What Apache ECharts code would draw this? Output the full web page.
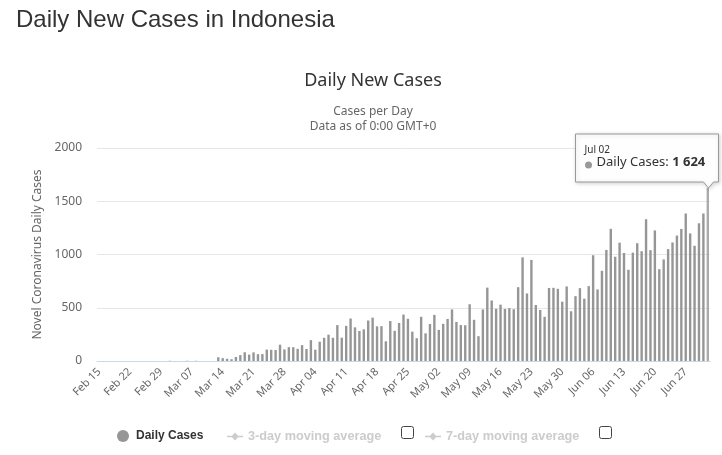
<!DOCTYPE html>
<html>
<head>
<meta charset="utf-8">
<script src="https://cdn.jsdelivr.net/npm/echarts@6/dist/echarts.min.js"></script>
<style>
  html, body { margin: 0; padding: 0; background: #fff; }
  #chart { width: 722px; height: 455px; }
</style>
</head>
<body>
<div id="chart"></div>
<script>
// ---- Data ----
const months = [
  { name: 'Feb', first: 15, last: 29 },
  { name: 'Mar', first: 1, last: 31 },
  { name: 'Apr', first: 1, last: 30 },
  { name: 'May', first: 1, last: 31 },
  { name: 'Jun', first: 1, last: 30 },
  { name: 'Jul', first: 1, last: 2 }
];
const febValues = [0,0,0,0,0,0,0,0,0,0,0,0,0,0,0];
const marValues = [0,2,0,0,0,2,0,2,0,0,0,0,35,27,21,17,38,55,82,60,81,64,65,107,105,103,153,109,130,129,114];
const aprValues = [149,113,196,106,181,218,247,218,337,219,330,399,316,282,297,380,407,325,327,185,375,283,357,436,396,275,214,415,260,347];
const mayValues = [433,292,349,395,484,367,338,336,533,387,233,484,689,568,490,529,489,496,486,693,973,634,949,526,479,415,686,687,678,557,700];
const junValues = [467,609,684,585,703,993,672,847,1043,1241,979,1111,1014,857,1017,1106,1031,1331,1041,1226,862,954,1051,1113,1178,1240,1385,1198,1082,1293];
const julValues = [1385,1624];
const yTicks = [0, 500, 1000, 1500, 2000];
const seriesNames = ['Daily Cases', '3-day moving average', '7-day moving average'];

(function () {
const categories = [];
months.forEach(m => {
  for (let d = m.first; d <= m.last; d++) {
    categories.push(m.name + ' ' + (d < 10 ? '0' + d : '' + d));
  }
});
const dailyCases = [].concat(febValues, marValues, aprValues, mayValues, junValues, julValues);
const lastIdx = dailyCases.length - 1;

const BASE = "'Noto Sans', 'Open sans', sans-serif";
const ARIAL = "'Liberation Sans', Arial, sans-serif";
const chart = echarts.init(document.getElementById('chart'), null, { renderer: 'canvas' });

function fmt(v) {
  return String(v).replace(/\B(?=(\d{3})+(?!\d))/g, ' ');
}

const maIcon = 'path://M0,5.2L5,5.2L8,2L11,5.2L16,5.2L16,6.8L11,6.8L8,10L5,6.8L0,6.8Z';

const option = {
  animation: false,
  backgroundColor: '#ffffff',
  title: [
    { text: 'Daily New Cases in Indonesia', left: 16, top: 8, padding: 0,
      textStyle: { fontFamily: ARIAL, fontSize: 24, fontWeight: 'normal', color: '#333' } },
    { text: 'Daily New Cases', left: 368, top: 67, textAlign: 'center',
      textStyle: { fontFamily: BASE, fontSize: 18, fontWeight: 'normal', color: '#333' } },
    { text: 'Cases per Day', left: 368, top: 101, textAlign: 'center',
      textStyle: { fontFamily: BASE, fontSize: 12, fontWeight: 'normal', color: '#666' } },
    { text: 'Data as of 0:00 GMT+0', left: 368, top: 116, textAlign: 'center',
      textStyle: { fontFamily: BASE, fontSize: 12, fontWeight: 'normal', color: '#666' } }
  ],
  legend: [
    { data: [seriesNames[0]], left: 112, top: 425, itemWidth: 16, itemHeight: 12, icon: 'circle',
      textStyle: { fontFamily: ARIAL, fontSize: 12, fontWeight: 'bold', color: '#333' } },
    { data: [seriesNames[1]], left: 222, top: 425, itemWidth: 16, itemHeight: 12, icon: maIcon,
      inactiveColor: '#ccc', selected: { [seriesNames[1]]: false },
      textStyle: { fontFamily: ARIAL, fontSize: 12.7, fontWeight: 'bold', color: '#333' } },
    { data: [seriesNames[2]], left: 420, top: 425, itemWidth: 16, itemHeight: 12, icon: maIcon,
      inactiveColor: '#ccc', selected: { [seriesNames[2]]: false },
      textStyle: { fontFamily: ARIAL, fontSize: 12.7, fontWeight: 'bold', color: '#333' } }
  ],
  grid: { left: 97, right: 12, top: 148, bottom: 94, containLabel: false },
  xAxis: {
    type: 'category',
    data: categories,
    boundaryGap: true,
    axisLine: { lineStyle: { color: '#ccd6eb' } },
    axisTick: { show: false },
    axisLabel: {
      interval: 6, rotate: 45, margin: 9,
      fontFamily: BASE, fontSize: 11, color: '#666'
    },
    splitLine: { show: false }
  },
  yAxis: {
    type: 'value',
    min: yTicks[0], max: yTicks[yTicks.length - 1], interval: 500,
    name: 'Novel Coronavirus Daily Cases',
    nameLocation: 'middle', nameGap: 49, nameRotate: 90,
    nameTextStyle: { fontFamily: BASE, fontSize: 12, color: '#666' },
    axisLine: { show: false },
    axisTick: { show: false },
    axisLabel: { margin: 15, fontFamily: BASE, fontSize: 12, color: '#666',
                 formatter: v => String(v) },
    splitLine: { lineStyle: { color: '#e6e6e6' } }
  },
  series: [
    {
      name: seriesNames[0], type: 'bar',
      data: dailyCases.map((v, i) => i === lastIdx ? { value: v, itemStyle: { color: '#ababab' } } : v),
      barWidth: 2.4,
      itemStyle: { color: '#969696' }
    },
    { name: seriesNames[1], type: 'line', data: [], itemStyle: { color: '#ccc' } },
    { name: seriesNames[2], type: 'line', data: [], itemStyle: { color: '#ccc' } }
  ]
};
chart.setOption(option);

// Tooltip-like callout anchored on the last bar, plus legend checkboxes
const p = chart.convertToPixel({ xAxisIndex: 0, yAxisIndex: 0 }, [lastIdx, dailyCases[lastIdx]]);
const px = Math.round(p[0]) + 0.5, py = Math.round(p[1]);
const bxR = px + 10, bxL = bxR - 143, bxB = py - 6, bxT = bxB - 48;
chart.setOption({
  graphic: [
    {
      type: 'polygon',
      shape: { points: [[bxL, bxT], [bxR, bxT], [bxR, bxB], [px + 5, bxB], [px, py], [px - 5, bxB], [bxL, bxB]] },
      style: { fill: 'rgba(255,255,255,0.96)', stroke: '#999', lineWidth: 1,
               shadowBlur: 4, shadowColor: 'rgba(0,0,0,0.18)', shadowOffsetX: 1, shadowOffsetY: 1 },
      z: 100
    },
    {
      type: 'text', x: bxL + 9, y: bxT + 11, z: 101,
      style: { text: categories[lastIdx], fontFamily: BASE, fontSize: 10, fill: '#333' }
    },
    {
      type: 'circle', shape: { cx: bxL + 13, cy: bxT + 31, r: 3.5 }, z: 101,
      style: { fill: '#999' }
    },
    {
      type: 'text', x: bxL + 21, y: bxT + 22, z: 101,
      style: {
        text: '{a|' + seriesNames[0] + ': }{b|' + fmt(dailyCases[lastIdx]) + '}',
        rich: {
          a: { fontFamily: BASE, fontSize: 13, fill: '#333' },
          b: { fontFamily: BASE, fontSize: 13, fontWeight: 'bold', fill: '#333' }
        }
      }
    },
    {
      type: 'rect', shape: { x: 401.5, y: 426.5, width: 12, height: 12, r: 2 }, z: 50,
      style: { fill: '#fff', stroke: '#444', lineWidth: 1 }
    },
    {
      type: 'rect', shape: { x: 599.5, y: 426.5, width: 12, height: 12, r: 2 }, z: 50,
      style: { fill: '#fff', stroke: '#444', lineWidth: 1 }
    }
  ]
});
})();
</script>
</body>
</html>
